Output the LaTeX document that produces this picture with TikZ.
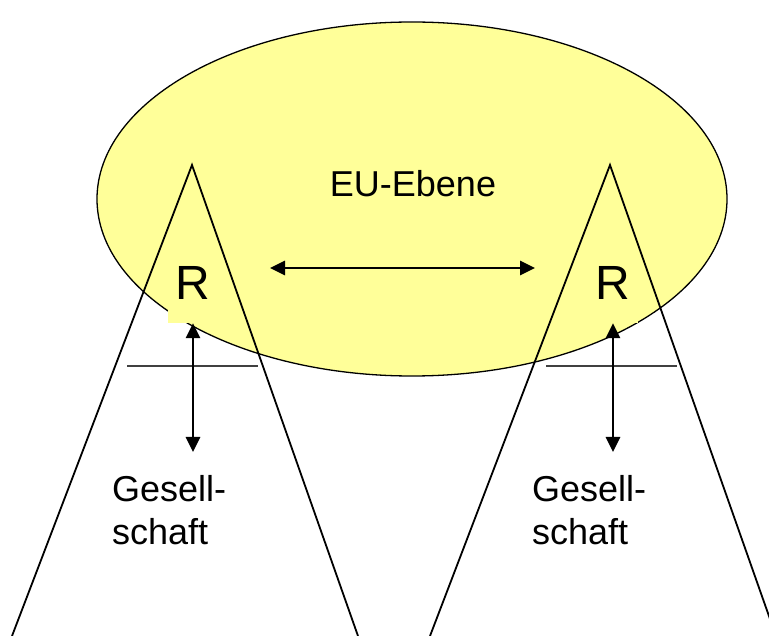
\documentclass[tikz,border=0pt]{standalone}
\usepackage{fontspec}
\setmainfont{Liberation Sans}
\usetikzlibrary{arrows.meta,shapes.geometric}
\definecolor{euyellow}{RGB}{255,255,153}
\begin{document}
\begin{tikzpicture}[x=1pt,y=-1pt,
  tri/.style={draw=black,line width=1.8pt,line join=miter},
  dblarrow/.style={line width=2.7pt,{Triangle[length=15pt,width=14pt]}-{Triangle[length=15pt,width=14pt]}},
  crossline/.style={draw=black!75,line width=1.7pt},
  txt/.style={font=\fontsize{36}{43}\selectfont,inner sep=0pt},
  rbox/.style={fill=euyellow,minimum width=50pt,minimum height=61pt,inner sep=0pt,
    text height=34.4pt,text depth=19.4pt,font=\fontsize{48}{50}\selectfont}]
\useasboundingbox (0,0) rectangle (769,636);
\begin{scope}
\clip (0,0) rectangle (769,636);
% EU level ellipse
\node[draw=black,line width=1.3pt,fill=euyellow,ellipse,minimum width=630pt,minimum height=354pt,inner sep=0pt] (eu) at (412,199) {};
% R labels
\node[rbox] (rl) at (193,292.5) {R};
\node[rbox] (rr) at (613,292.5) {R};
% triangles
\coordinate (ta) at (192,165);
\coordinate (tb) at (12,636);
\coordinate (tc) at (358,636);
\coordinate (ua) at (610,165);
\coordinate (ub) at (430,636);
\coordinate (uc) at (776,636);
\draw[tri] (tb) -- (ta) -- (tc);
\draw[tri] (ub) -- (ua) -- (uc);
% cross lines
\coordinate (cl1) at (127,366);
\coordinate (cl2) at (258,366);
\coordinate (cr1) at (546,366);
\coordinate (cr2) at (677,366);
\draw[crossline] (cl1) -- (cl2);
\draw[crossline] (cr1) -- (cr2);
% arrows
\coordinate (h1) at (270,268);
\coordinate (h2) at (535,268);
\draw[dblarrow] (h1) -- (h2);
\coordinate (gl) at (193,452);
\coordinate (gr) at (613,452);
\draw[dblarrow] (rl.south) -- (gl);
\draw[dblarrow] (rr.south) -- (gr);
% texts
\node[txt,anchor=base] (eutxt) at (413,197) {EU-Ebene};
\node[txt,anchor=north west,align=left] (gesl) at (112,475) {Gesell-\\schaft};
\node[txt,anchor=north west,align=left] (gesr) at (532,475) {Gesell-\\schaft};
\end{scope}
\end{tikzpicture}
\end{document}
